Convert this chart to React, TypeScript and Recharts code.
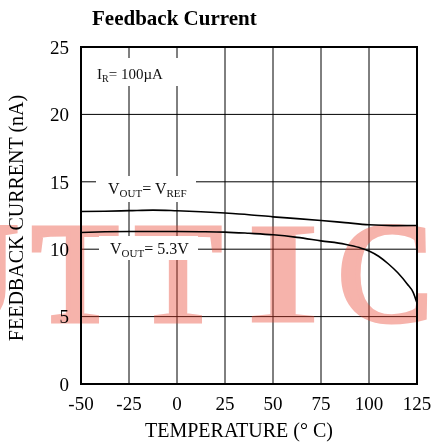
import React from 'react';
import { LineChart, Line, XAxis, YAxis, CartesianGrid, Customized } from 'recharts';

// temperatures (°C) and feedback current (nA)
const tempsRef = [-50, -37.5, -25, -12.5, 0, 12.5, 25, 37.5, 50, 62.5, 75, 87.5, 100, 112.5, 125];
const currentRef = [12.8, 12.82, 12.86, 12.9, 12.85, 12.78, 12.68, 12.56, 12.4, 12.27, 12.13, 11.97, 11.81, 11.75, 11.76];

const temps53 = [-50, -37.5, -25, -12.5, 0, 12.5, 25, 37.5, 50, 62.5, 75, 87.5, 95, 100, 105, 110, 115, 120, 123, 125];
const current53 = [11.24, 11.29, 11.31, 11.31, 11.31, 11.3, 11.27, 11.18, 11.07, 10.88, 10.62, 10.37, 10.12, 9.87, 9.48, 8.92, 8.25, 7.4, 6.8, 6.0];

const xTicks = [-50, -25, 0, 25, 50, 75, 100, 125];
const yTicks = [0, 5, 10, 15, 20, 25];

const refData = tempsRef.map((t, i) => ({ t, v: currentRef[i] }));
const data53 = temps53.map((t, i) => ({ t, v: current53[i] }));

const serif = "'Liberation Serif', 'Times New Roman', serif";

const Overlay = () => (
  <g fontFamily={serif}>
    {/* watermark */}
    <g fill="#e8412f" stroke="#e8412f" strokeWidth={5} strokeLinejoin="miter" opacity={0.4} fontSize={142}>
      <text x={18} y={321} textAnchor="end">U</text>
      <text x={75} y={321} textAnchor="middle">T</text>
      <text x={178} y={321} textAnchor="middle">T</text>
      <text x={283} y={321} textAnchor="middle" strokeWidth={3} transform="translate(283 0) scale(1.55 1) translate(-283 0)">I</text>
      <text x={385} y={321} textAnchor="middle">C</text>
    </g>
    {/* annotation boxes */}
    <rect x={84} y={58} width={96} height={28} fill="#fff" />
    <text x={97} y={79} fontSize={15} fill="#111">
      I<tspan fontSize={10} dy={3}>R</tspan><tspan dy={-3}>= 100µA</tspan>
    </text>
    <rect x={96} y={176} width={100} height={26} fill="#fff" />
    <text x={108} y={194} fontSize={16} fill="#111">
      V<tspan fontSize={11} dy={3}>OUT</tspan><tspan dy={-3}>= V</tspan><tspan fontSize={11} dy={3}>REF</tspan>
    </text>
    <rect x={99} y={236} width={99} height={24} fill="#fff" />
    <text x={110} y={254} fontSize={16} fill="#111">
      V<tspan fontSize={11} dy={3}>OUT</tspan><tspan dy={-3}>= 5.3V</tspan>
    </text>
    {/* titles */}
    <text x={92} y={25} fontSize={21} fontWeight="bold" fill="#000">Feedback Current</text>
    <text x={239} y={437} fontSize={20} textAnchor="middle" fill="#000">TEMPERATURE (° C)</text>
    <text x={23} y={218} fontSize={20} textAnchor="middle" fill="#000" transform="rotate(-90 23 218)">
      FEEDBACK CURRENT (nA)
    </text>
  </g>
);

export default function App() {
  return (
    <div style={{ position: 'absolute', left: 0, top: 0, width: 433, height: 445, background: '#fff' }}>
      <LineChart width={433} height={445} margin={{ top: 47, right: 16, bottom: 31, left: 41 }}>
        <CartesianGrid stroke="#000" strokeWidth={1} horizontal vertical />
        <XAxis
          dataKey="t"
          type="number"
          domain={[-50, 125]}
          ticks={xTicks}
          height={30}
          tickLine={false}
          axisLine={false}
          tickMargin={7}
          tick={{ fill: '#000', fontSize: 19, fontFamily: serif }}
          allowDuplicatedCategory={false}
        />
        <YAxis
          type="number"
          domain={[0, 25]}
          ticks={yTicks}
          width={40}
          tickLine={false}
          axisLine={false}
          tickMargin={6}
          tick={{ fill: '#000', fontSize: 19, fontFamily: serif }}
        />
        <Line data={refData} dataKey="v" type="monotone" stroke="#000" strokeWidth={1.6} dot={false} isAnimationActive={false} />
        <Line data={data53} dataKey="v" type="monotone" stroke="#000" strokeWidth={1.6} dot={false} isAnimationActive={false} />
        <Customized component={Overlay} />
        <rect x={81} y={47} width={336} height={337} fill="none" stroke="#000" strokeWidth={2} />
      </LineChart>
    </div>
  );
}
